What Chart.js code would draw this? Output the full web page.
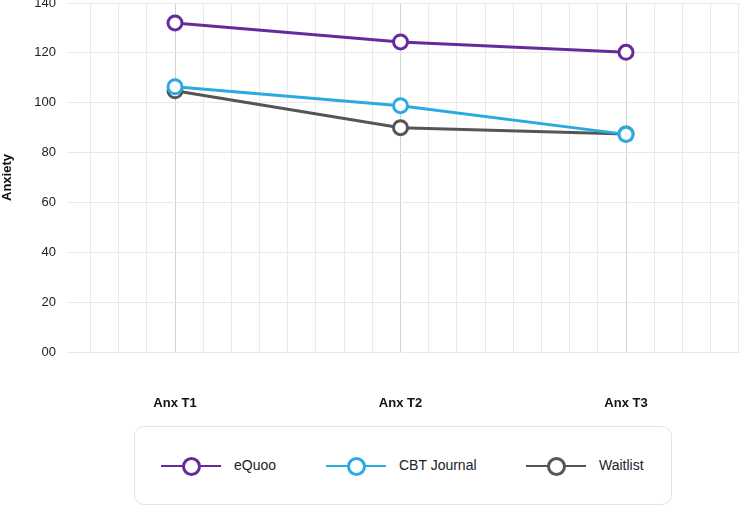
<!DOCTYPE html>
<html>
<head>
<meta charset="utf-8">
<script src="https://cdn.jsdelivr.net/npm/chart.js@4.4.0/dist/chart.umd.min.js"></script>
<style>
  body { margin: 0; background: #fff; font-family: "Liberation Sans", Arial, sans-serif; }
  #wrap { position: relative; width: 740px; height: 506px; overflow: hidden; }
  #grafico { position: absolute; left: 0; top: -7px; }
  #legend {
    position: absolute; left: 134px; top: 426px; width: 538px; height: 79px;
    border: 1px solid #e3e3e3; border-radius: 10px; box-sizing: border-box;
  }
  .item { position: absolute; top: 39px; height: 0; }
  .item .ln { position: absolute; left: 0; top: -1px; width: 60px; height: 2px; }
  .item .dot {
    position: absolute; left: 21px; top: -9.5px; width: 13px; height: 13px;
    border: 3px solid; border-radius: 50%; background: #fff;
  }
  .item span { position: absolute; left: 73px; top: -9px; font-size: 14px; color: #222; white-space: nowrap; }
</style>
</head>
<body>
<div id="wrap">
  <canvas id="grafico" width="750" height="427"></canvas>
  <div id="legend"></div>
</div>
<script>
const categorias = ['Anx T1', 'Anx T2', 'Anx T3'];
const eQuoo = [132.0, 124.4, 120.2];
const cbtJournal = [106.4, 98.8, 87.3];
const waitlist = [104.8, 90.0, 87.4];
const nomes = ['eQuoo', 'CBT Journal', 'Waitlist'];
const cores = ['#672a9c', '#29abe2', '#555555'];
const yTicks = [0, 20, 40, 60, 80, 100, 120, 140];

function pontos(valores) {
  return valores.map((v, i) => ({ x: i + 1, y: v }));
}

const series = [eQuoo, cbtJournal, waitlist];
const fonte = '"Liberation Sans", Arial, sans-serif';

const ctx = document.getElementById('grafico').getContext('2d');
const grafico = new Chart(ctx, {
  type: 'line',
  data: {
    datasets: series.map((s, i) => ({
      label: nomes[i],
      data: pontos(s),
      borderColor: cores[i],
      backgroundColor: '#fff',
      pointBackgroundColor: '#fff',
      pointBorderColor: cores[i],
      pointBorderWidth: 3,
      pointRadius: 7,
      borderWidth: 3,
      fill: false,
      tension: 0
    }))
  },
  options: {
    responsive: false,
    animation: false,
    layout: { padding: { left: 0, right: 0, top: 3, bottom: 0 } },
    plugins: {
      legend: { display: false },
      tooltip: { enabled: false }
    },
    scales: {
      x: {
        type: 'linear',
        min: 0.521,
        max: 3.5055,
        afterBuildTicks: (scale) => {
          const t = [];
          for (let k = 5; k <= 28; k++) t.push({ value: k / 8 });
          scale.ticks = t;
        },
        afterFit: (scale) => {
          scale.paddingLeft = 0;
          scale.paddingRight = 0;
          scale.height = 68;
        },
        grid: {
          drawTicks: false,
          color: (c) => (c.tick && Number.isInteger(c.tick.value)) ? '#d2d2d6' : '#e9e9ec',
          lineWidth: 1
        },
        border: { display: false },
        ticks: {
          autoSkip: false,
          maxRotation: 0,
          padding: 44,
          color: '#111',
          font: { family: fonte, size: 13, weight: 'bold' },
          callback: (v) => Number.isInteger(v) ? categorias[v - 1] : ''
        }
      },
      y: {
        min: 0,
        max: 140,
        afterBuildTicks: (scale) => { scale.ticks = yTicks.map(v => ({ value: v })); },
        afterFit: (scale) => {
          scale.paddingTop = 0;
          scale.paddingBottom = 0;
          scale.width = 67;
        },
        grid: { drawTicks: false, color: '#e9e9ec' },
        border: { display: false },
        title: {
          display: true,
          text: 'Anxiety',
          color: '#111',
          font: { family: fonte, size: 13, weight: 'bold' },
          padding: { top: 0, bottom: 0 }
        },
        ticks: {
          padding: 11,
          color: '#222',
          font: { family: fonte, size: 13 },
          callback: (v) => v === 0 ? '00' : v
        }
      }
    }
  }
});

// legenda em HTML
const posicoes = [26, 191, 391];
const legenda = document.getElementById('legend');
grafico.data.datasets.forEach((d, i) => {
  const el = document.createElement('div');
  el.className = 'item';
  el.style.left = posicoes[i] + 'px';
  el.innerHTML = `<div class="ln" style="background:${d.borderColor}"></div>
    <div class="dot" style="border-color:${d.borderColor}"></div>
    <span>${d.label}</span>`;
  legenda.appendChild(el);
});
</script>
</body>
</html>
